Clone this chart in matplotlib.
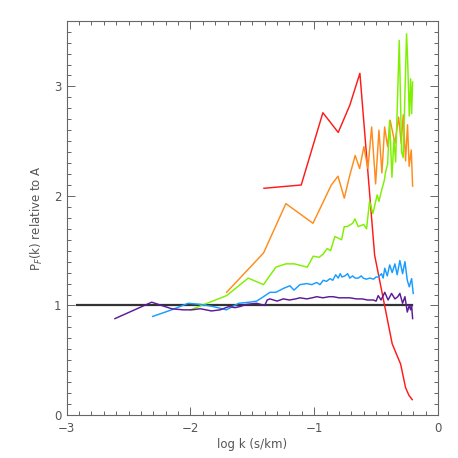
import matplotlib
matplotlib.use("Agg")
import matplotlib.pyplot as plt
from matplotlib.ticker import MultipleLocator

# ---- data ----
red_x = [-1.406, -1.105, -0.930, -0.806, -0.712, -0.631, -0.512, -0.370, -0.302, -0.262, -0.235, -0.208]
red_y = [2.07, 2.10, 2.76, 2.58, 2.83, 3.12, 1.46, 0.65, 0.465, 0.25, 0.18, 0.14]

orange_x = [-1.708, -1.409, -1.229, -1.010, -0.862,
            -0.808, -0.757, -0.717, -0.669, -0.633,
            -0.599, -0.566, -0.536, -0.504, -0.477,
            -0.453, -0.431, -0.407, -0.386, -0.348,
            -0.318, -0.297, -0.281, -0.262, -0.246,
            -0.233, -0.216, -0.205]
orange_y = [1.12, 1.48, 1.93, 1.75, 2.10,
            2.18, 1.98, 2.17, 2.37, 2.25,
            2.45, 2.25, 2.63, 2.11, 2.60,
            2.21, 2.63, 2.45, 2.69, 2.48,
            2.72, 2.48, 2.74, 2.32, 2.65,
            2.27, 2.42, 2.09]

green_x = [-2.0, -1.708, -1.533, -1.41, -1.31,
           -1.229, -1.16, -1.056, -1.008, -0.96,
           -0.927, -0.895, -0.868, -0.833, -0.779,
           -0.757, -0.733, -0.69, -0.671, -0.644,
           -0.60, -0.577, -0.553, -0.526, -0.491,
           -0.477, -0.456, -0.434, -0.423, -0.407,
           -0.391, -0.372, -0.356, -0.342, -0.313,
           -0.294, -0.281, -0.254, -0.246, -0.232,
           -0.221, -0.213, -0.205]
green_y = [0.96, 1.09, 1.25, 1.19, 1.35,
           1.38, 1.38, 1.35, 1.45, 1.44,
           1.47, 1.52, 1.50, 1.63, 1.60,
           1.72, 1.72, 1.75, 1.79, 1.72,
           1.74, 1.70, 1.95, 1.84, 2.01,
           1.95, 2.05, 2.14, 2.22, 2.29,
           2.69, 2.17, 2.52, 2.31, 3.42,
           2.40, 2.35, 3.48, 3.27, 2.73,
           3.07, 2.75, 3.04]

blue_x = [-2.305, -2.152, -2.018, -1.92, -1.816,
          -1.71, -1.61, -1.52, -1.465, -1.41,
          -1.358, -1.31, -1.25, -1.196, -1.164,
          -1.115, -1.06, -1.02, -0.98, -0.954,
          -0.927, -0.90, -0.873, -0.85, -0.827,
          -0.806, -0.79, -0.776, -0.752, -0.73,
          -0.712, -0.69, -0.67, -0.644, -0.62,
          -0.604, -0.58, -0.55, -0.52, -0.50,
          -0.483, -0.456, -0.443, -0.43, -0.41,
          -0.39, -0.37, -0.348, -0.33, -0.308,
          -0.286, -0.267, -0.248, -0.232, -0.213,
          -0.20]
blue_y = [0.90, 0.96, 1.02, 1.01, 0.99,
          0.96, 1.02, 1.03, 1.04, 1.08,
          1.12, 1.12, 1.155, 1.18, 1.14,
          1.19, 1.20, 1.19, 1.21, 1.19,
          1.23, 1.22, 1.245, 1.23, 1.28,
          1.25, 1.29, 1.26, 1.27, 1.29,
          1.25, 1.27, 1.25, 1.25, 1.27,
          1.25, 1.24, 1.25, 1.24, 1.26,
          1.26, 1.29, 1.25, 1.34, 1.27,
          1.37, 1.30, 1.38, 1.28, 1.41,
          1.29, 1.40, 1.23, 1.17, 1.245,
          1.11]

purple_x = [-2.61, -2.313, -2.233, -2.152, -2.058,
            -1.99, -1.92, -1.83, -1.76, -1.69,
            -1.64, -1.60, -1.546, -1.465, -1.40,
            -1.38, -1.358, -1.30, -1.25, -1.20,
            -1.15, -1.115, -1.06, -1.016, -0.98,
            -0.93, -0.88, -0.847, -0.80, -0.746,
            -0.712, -0.66, -0.612, -0.57, -0.523,
            -0.50, -0.483, -0.46, -0.43, -0.403,
            -0.375, -0.348, -0.325, -0.308, -0.286,
            -0.267, -0.248, -0.232, -0.221, -0.213,
            -0.205]
purple_y = [0.88, 1.03, 1.00, 0.97, 0.96,
            0.96, 0.97, 0.95, 0.96, 0.99,
            0.98, 0.99, 1.01, 1.02, 1.00,
            1.05, 1.06, 1.04, 1.06, 1.05,
            1.06, 1.07, 1.06, 1.07, 1.08,
            1.07, 1.08, 1.08, 1.07, 1.07,
            1.07, 1.06, 1.06, 1.05, 1.05,
            1.04, 1.09, 1.05, 1.12, 1.05,
            1.11, 1.06, 1.08, 1.11, 1.02,
            1.08, 0.94, 1.00, 0.96, 1.00,
            0.88]

ref_x = [-2.92, -0.21]
ref_y = [1.0, 1.0]

x_ticks = [-3, -2, -1, 0]
y_ticks = [0, 1, 2, 3]

# ---- figure ----
txt = "#555555"
fig = plt.figure(figsize=(4.58, 4.58), dpi=100)
ax = fig.add_axes([0.1456, 0.0939, 0.8107, 0.8609])

ax.plot(ref_x, ref_y, color="#333333", lw=1.6, zorder=2)
ax.plot(red_x, red_y, color="#ff1a1a", lw=1.05, zorder=3)
ax.plot(orange_x, orange_y, color="#ff8c1a", lw=1.05, zorder=3)
ax.plot(green_x, green_y, color="#7ff000", lw=1.05, zorder=3)
ax.plot(blue_x, blue_y, color="#1a9cff", lw=1.05, zorder=3)
ax.plot(purple_x, purple_y, color="#5c1a99", lw=1.05, zorder=3)

ax.set_xlim(-3, 0)
ax.set_ylim(0, 3.6)
ax.set_xticks(x_ticks)
ax.set_yticks(y_ticks)
ax.set_xticklabels([f"\u2212{abs(v)}" if v < 0 else str(v) for v in x_ticks])
ax.xaxis.set_minor_locator(MultipleLocator(0.1))
ax.yaxis.set_minor_locator(MultipleLocator(0.1))
ax.tick_params(which="both", direction="in", top=True, right=True,
               color="#666666", width=0.7, labelcolor=txt, labelsize=8.5)
ax.tick_params(which="major", length=5.5)
ax.tick_params(which="minor", length=3)
ax.tick_params(axis="x", which="major", pad=5)
ax.tick_params(axis="y", which="major", pad=4)
for s in ax.spines.values():
    s.set_color("#666666")
    s.set_linewidth(0.8)

ax.set_xlabel("log k (s/km)", color=txt, fontsize=8.5, labelpad=2)
ax.set_ylabel("P$_F$(k) relative to A", color=txt, fontsize=8.5, labelpad=6)

fig.savefig("out.png", dpi=100)
